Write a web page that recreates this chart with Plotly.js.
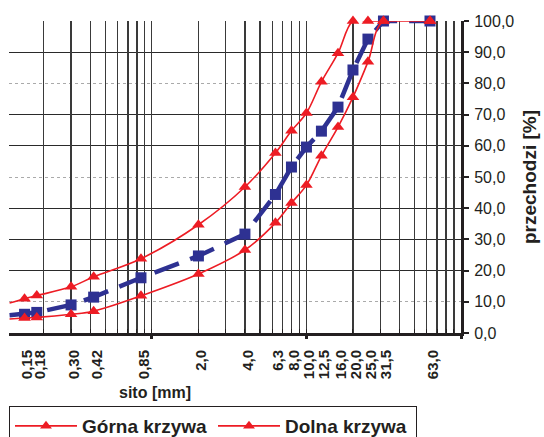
<!DOCTYPE html>
<html>
<head>
<meta charset="utf-8">
<script src="https://cdn.plot.ly/plotly-3.0.1.min.js"></script>
<style>html,body{margin:0;padding:0;background:#fff;}#chart{width:544px;height:437px;}</style>
</head>
<body>
<div id="chart"></div>
<script>
// Sieve sizes [mm] and their labels
const SIEVES = [0.15, 0.18, 0.30, 0.42, 0.85, 2.0, 4.0, 6.3, 8.0, 10.0, 12.5, 16.0, 20.0, 25.0, 31.5, 63.0];
const SIEVE_LABELS = ["0,15", "0,18", "0,30", "0,42", "0,85", "2,0", "4,0", "6,3", "8,0", "10,0", "12,5", "16,0", "20,0", "25,0", "31,5", "63,0"];
// Passing [%]
const GORNA = [11.0, 12.0, 14.8, 18.0, 23.8, 34.7, 46.8, 57.7, 64.8, 70.5, 80.5, 89.7, 100, 100, 100, 100];
const DOLNA = [4.8, 5.0, 6.0, 7.0, 11.9, 18.9, 26.6, 35.3, 41.7, 47.4, 56.8, 66.0, 75.6, 86.9, 100, 100];
const MIESZANKA = [6.0, 6.6, 9.0, 11.5, 17.7, 24.7, 31.7, 44.4, 53.2, 59.6, 64.7, 72.4, 84.3, 94.2, 100, 100];
// Curves continue to the left edge of the chart (values read at that edge)
const EDGE_X = 0.12;
const EDGE_GORNA = 9.6;
const EDGE_DOLNA = 4.5;
const EDGE_MIESZANKA = 5.7;
const Y_TICKS = [0, 10, 20, 30, 40, 50, 60, 70, 80, 90, 100];
const Y_LABELS = Y_TICKS.map(v => v.toFixed(1).replace('.', ','));
const Y_SOLID = [20, 30, 40, 60, 70, 90, 100];
const Y_DOTTED = [10, 50, 80];

const RED = '#ed1c24', BLUE = '#2e3192', INK = '#231f20';
const FONT = 'Liberation Sans, Arial, sans-serif';
const XR = [Math.log10(0.119), 2];

// pad short labels with a figure space so all rotated labels line up at the axis
const padLabel = s => (s.length < 4 ? '\u2007' + s : s);

function withEdge(ex, ev, xs, vs) { return {x: [ex].concat(xs), y: [ev].concat(vs)}; }
function sizes(n, s) { const a = [0]; for (let i = 0; i < n; i++) a.push(s); return a; }

const b = withEdge(EDGE_X, EDGE_MIESZANKA, SIEVES, MIESZANKA);
const g = withEdge(EDGE_X, EDGE_GORNA, SIEVES, GORNA);
const d = withEdge(EDGE_X, EDGE_DOLNA, SIEVES, DOLNA);

// empty helper traces so the overlaid grid axes are drawn
const helpers = [['x2', 'y'], ['x3', 'y'], ['x', 'y2'], ['x', 'y3']].map(p => (
  {x: [], y: [], xaxis: p[0], yaxis: p[1], mode: 'markers', showlegend: false, hoverinfo: 'skip'}));

const traces = helpers.concat([
  {x: b.x, y: b.y, mode: 'lines+markers', showlegend: false, name: 'mieszanka', cliponaxis: false,
   line: {color: BLUE, width: 4.5, dash: '26px,12px'},
   marker: {symbol: 'square', color: BLUE, opacity: 1, line: {width: 0}, size: sizes(SIEVES.length, 11)}},
  {x: g.x, y: g.y, mode: 'lines+markers', name: 'Górna krzywa', cliponaxis: false,
   line: {color: RED, width: 1.6, shape: 'spline'},
   marker: {symbol: 'triangle-up', color: RED, opacity: 1, line: {width: 0}, size: sizes(SIEVES.length, 11)}},
  {x: d.x, y: d.y, mode: 'lines+markers', name: 'Dolna krzywa', cliponaxis: false,
   line: {color: RED, width: 1.6, shape: 'spline'},
   marker: {symbol: 'triangle-up', color: RED, opacity: 1, line: {width: 0}, size: sizes(SIEVES.length, 11)}}
]);

const layout = {
  width: 544, height: 437,
  margin: {l: 9, r: 83, t: 21, b: 104, autoexpand: false},
  paper_bgcolor: '#fff', plot_bgcolor: '#fff',
  font: {family: FONT, color: INK},
  showlegend: true,
  xaxis: {type: 'log', range: XR, tickmode: 'array', tickvals: SIEVES, ticktext: SIEVE_LABELS.map(padLabel),
    tickangle: -90, tickfont: {family: FONT, size: 15, weight: 'bold', color: INK},
    showgrid: false, zeroline: false, showline: true, linewidth: 3, linecolor: INK,
    ticks: '', ticklabelstandoff: 8, ticklabelshift: 3, fixedrange: true},
  xaxis2: {type: 'log', range: XR, overlaying: 'x', anchor: 'y', side: 'bottom', dtick: 'D1',
    showticklabels: false, showgrid: true, gridcolor: '#3a3a3a', gridwidth: 1.2,
    ticks: 'inside', ticklen: 4, tickcolor: INK, tickwidth: 1, showline: false, zeroline: false},
  xaxis3: {type: 'log', range: XR, overlaying: 'x', anchor: 'y', side: 'bottom', tickmode: 'array',
    tickvals: [1, 10, 100], showticklabels: false, showgrid: false, ticks: 'outside', ticklen: 5,
    tickwidth: 3, tickcolor: INK, showline: false, zeroline: false},
  yaxis: {range: [0, 100], side: 'right', anchor: 'x', tickmode: 'array', tickvals: Y_TICKS, ticktext: Y_LABELS,
    tickfont: {family: FONT, size: 16, color: INK}, showgrid: false, zeroline: false,
    showline: true, linewidth: 3, linecolor: INK, ticks: 'outside', ticklen: 5, tickwidth: 2, tickcolor: INK,
    ticklabelstandoff: 2,
    title: {text: 'przechodzi [%]', font: {family: FONT, size: 19, weight: 'bold', color: INK}, standoff: 10}},
  yaxis2: {range: [0, 100], overlaying: 'y', anchor: 'x', side: 'right', tickmode: 'array', tickvals: Y_SOLID,
    showticklabels: false, showgrid: true, gridcolor: '#2a2a2a', gridwidth: 1.2, ticks: '', zeroline: false, showline: false},
  yaxis3: {range: [0, 100], overlaying: 'y', anchor: 'x', side: 'right', tickmode: 'array', tickvals: Y_DOTTED,
    showticklabels: false, showgrid: true, gridcolor: '#aaaaaa', gridwidth: 1, griddash: 'dot', ticks: '', zeroline: false, showline: false},
  legend: {orientation: 'h', x: 0, xanchor: 'left', y: -0.234, yanchor: 'top',
    bordercolor: INK, borderwidth: 1, bgcolor: '#fff', itemwidth: 62,
    entrywidth: 126, entrywidthmode: 'pixels',
    font: {family: FONT, size: 19, weight: 'bold', color: INK}},
  annotations: [{text: 'sito [mm]', xref: 'paper', yref: 'paper', x: 0.323, y: -0.19,
    xanchor: 'center', yanchor: 'middle', showarrow: false,
    font: {family: FONT, size: 16, weight: 'bold', color: INK}}]
};

Plotly.newPlot('chart', traces, layout, {staticPlot: true});
</script>
</body>
</html>
